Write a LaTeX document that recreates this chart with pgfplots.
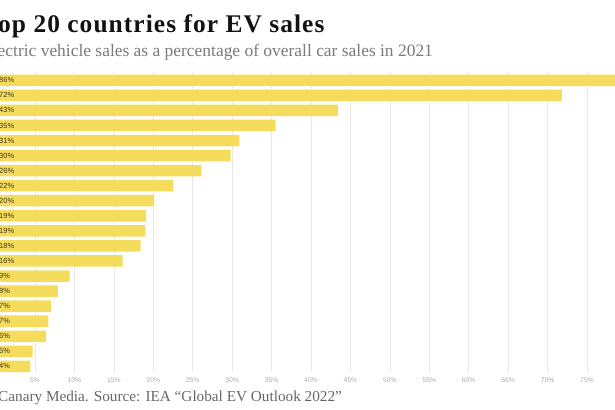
\documentclass[border=0pt]{standalone}
\usepackage{pgfplots}
\pgfplotsset{compat=1.18}
\usepackage{pgfplotstable}
\usepackage{fontspec}
\setmainfont{Liberation Serif}
\newfontfamily\titlefont{Liberation Serif}[LetterSpace=4.2]
\newfontfamily\labfont{Liberation Sans}
\definecolor{barcol}{HTML}{F6DC5C}
\definecolor{subcol}{HTML}{7A7A7A}
\definecolor{footcol}{HTML}{666666}
\definecolor{ticklab}{HTML}{AAAAAA}
\definecolor{vallab}{HTML}{3A3520}
\definecolor{gridcol}{HTML}{E8E8E8}
\pgfplotstableread{
idx val lab
0 86.2 86
1 71.8 72
2 43.4 43
3 35.5 35
4 30.9 31
5 29.8 30
6 26.1 26
7 22.5 22
8 20.1 20
9 19.1 19
10 19.0 19
11 18.4 18
12 16.1 16
13 9.4 9
14 7.9 8
15 7.0 7
16 6.7 7
17 6.4 6
18 4.7 5
19 4.4 4
}\evdata
\begin{document}
\begin{tikzpicture}
\useasboundingbox (0bp,0bp) rectangle (615bp,410bp);
\clip (0bp,0bp) rectangle (615bp,410bp);
\begin{axis}[
  at={(-4.4bp,37.6bp)}, anchor=south west,
  scale only axis, width=709.7bp, height=300.4bp,
  xmin=0, xmax=90, ymin=-0.55, ymax=19.4, y dir=reverse,
  axis line style={draw=none},
  ytick=\empty,
  xtick={0,5,...,75},
  major tick length=0pt,
  xmajorgrids, grid style={draw=gridcol, line width=0.7bp},
  xticklabel={\pgfmathprintnumber{\tick}\%},
  /pgf/number format/assume math mode=true,
  xticklabel style={font=\labfont\fontsize{6.8}{7}\selectfont, text=ticklab, yshift=-1.5bp},
]
\addplot[xbar, bar width=11.5bp, fill=barcol, draw=none] table[x=val, y=idx] {\evdata};
\addplot[draw=none, mark=none, nodes near coords={\pgfplotspointmeta\%}, point meta=explicit symbolic,
  nodes near coords style={anchor=west, inner sep=0pt, xshift=3.4bp, font=\labfont\fontsize{7.5}{8}\selectfont, text=vallab}]
  table[x expr=0, y=idx, meta=lab] {\evdata};
\end{axis}
\node[anchor=base west, inner sep=0pt, font=\titlefont\bfseries\fontsize{25.5}{30}\selectfont, text=black!93] at (-2bp,377bp) {\llap{T}op 20 countries for EV sales};
\node[anchor=base west, inner sep=0pt, font=\fontsize{17.5}{21}\selectfont, text=subcol] at (-2.5bp,353bp) {\llap{El}ectric vehicle sales as a percentage of overall car sales in 2021};
\node[anchor=base west, inner sep=0pt, font=\fontsize{15.3}{18}\selectfont, text=footcol] at (-2bp,9bp) {\llap{Chart: }Canary Media. Source: IEA “Global EV Outlook 2022”};
\end{tikzpicture}
\end{document}
